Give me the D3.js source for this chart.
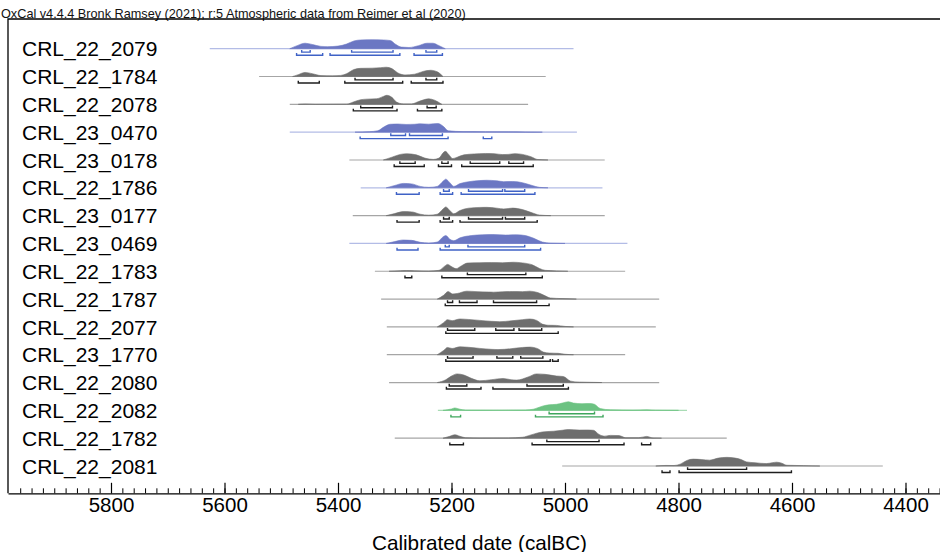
<!DOCTYPE html>
<html>
<head>
<meta charset="utf-8">
<script src="https://cdn.jsdelivr.net/npm/d3@7"></script>
<style>
  body { margin: 0; background: #fff; }
  svg { display: block; font-family: "Liberation Sans", Arial, sans-serif; }
</style>
</head>
<body>
<div id="plot"></div>
<script>
// sample names, top to bottom
const labels = ["CRL_22_2079", "CRL_22_1784", "CRL_22_2078", "CRL_23_0470", "CRL_23_0178", "CRL_22_1786",
    "CRL_23_0177", "CRL_23_0469", "CRL_22_1783", "CRL_22_1787", "CRL_22_2077", "CRL_23_1770",
    "CRL_22_2080", "CRL_22_2082", "CRL_22_1782", "CRL_22_2081"];

const groups = ["blue", "grey", "grey", "blue", "grey", "blue", "grey", "blue",
    "grey", "grey", "grey", "grey", "grey", "green", "grey", "grey"];

// extent of the thin line under each distribution (calBC)
const ranges = [[5626, 4985], [5539, 5034], [5485, 5065], [5485, 4979], [5380, 4930], [5360, 4934],
    [5374, 4930], [5380, 4890], [5335, 4894], [5324, 4834], [5314, 4840], [5314, 4894],
    [5310, 4834], [5224, 4785], [5300, 4715], [5005, 4440]];

// calibrated probability, [year calBC, relative density]
const densities = [
    [[5485, 0], [5472, 0.33], [5458, 0.59], [5445, 0.45], [5430, 0.25], [5418, 0.22], [5400, 0.28], [5385, 0.5], [5372, 0.83], [5360, 0.94], [5340, 0.97], [5320, 0.94], [5308, 0.88], [5298, 0.45], [5288, 0.17], [5275, 0.13], [5258, 0.33], [5243, 0.59], [5233, 0.59], [5222, 0.33], [5211, 0]],
    [[5480, 0], [5470, 0.2], [5458, 0.44], [5445, 0.3], [5430, 0.1], [5410, 0.08], [5395, 0.12], [5385, 0.3], [5372, 0.75], [5360, 0.88], [5340, 0.9], [5325, 0.95], [5315, 1.0], [5305, 0.85], [5295, 0.4], [5282, 0.17], [5265, 0.25], [5250, 0.55], [5237, 0.67], [5225, 0.5], [5215, 0]],
    [[5470, 0], [5458, 0.04], [5440, 0], [5385, 0.02], [5373, 0.25], [5360, 0.5], [5349, 0.56], [5332, 0.6], [5320, 0.85], [5314, 0.97], [5305, 0.75], [5297, 0.25], [5285, 0.05], [5270, 0.05], [5258, 0.3], [5240, 0.59], [5230, 0.45], [5217, 0]],
    [[5370, 0], [5345, 0.05], [5330, 0.15], [5318, 0.6], [5308, 0.85], [5295, 0.88], [5280, 0.83], [5265, 0.85], [5256, 0.9], [5240, 0.86], [5224, 0.93], [5214, 0.6], [5206, 0.15], [5180, 0.06], [5140, 0.05], [5100, 0.04], [5070, 0.02], [5040, 0]],
    [[5320, 0], [5305, 0.3], [5290, 0.6], [5279, 0.67], [5262, 0.55], [5247, 0.2], [5232, 0.06], [5222, 0.2], [5215, 0.75], [5211, 0.93], [5205, 0.6], [5198, 0.15], [5190, 0.3], [5178, 0.55], [5160, 0.65], [5140, 0.7], [5125, 0.68], [5110, 0.58], [5100, 0.6], [5088, 0.68], [5075, 0.6], [5060, 0.35], [5048, 0.05], [5030, 0]],
    [[5315, 0], [5300, 0.25], [5285, 0.47], [5270, 0.42], [5255, 0.15], [5240, 0.05], [5225, 0.15], [5215, 0.7], [5210, 0.93], [5203, 0.55], [5196, 0.15], [5185, 0.45], [5170, 0.65], [5150, 0.78], [5138, 0.81], [5120, 0.75], [5108, 0.66], [5092, 0.68], [5075, 0.55], [5058, 0.25], [5045, 0.05], [5030, 0]],
    [[5315, 0], [5300, 0.22], [5285, 0.43], [5270, 0.4], [5255, 0.15], [5240, 0.05], [5225, 0.15], [5215, 0.7], [5210, 0.93], [5203, 0.55], [5196, 0.2], [5185, 0.55], [5170, 0.8], [5150, 0.88], [5138, 0.89], [5120, 0.8], [5108, 0.72], [5092, 0.81], [5075, 0.65], [5058, 0.3], [5045, 0.06], [5025, 0]],
    [[5315, 0], [5300, 0.2], [5285, 0.37], [5270, 0.33], [5255, 0.12], [5240, 0.04], [5225, 0.15], [5215, 0.7], [5210, 0.85], [5203, 0.45], [5196, 0.3], [5185, 0.6], [5165, 0.85], [5145, 0.93], [5127, 0.96], [5105, 0.9], [5085, 0.93], [5070, 0.85], [5055, 0.55], [5040, 0.15], [5025, 0.03], [5000, 0]],
    [[5310, 0], [5290, 0.06], [5279, 0.08], [5265, 0.05], [5240, 0.02], [5222, 0.1], [5212, 0.55], [5207, 0.74], [5200, 0.5], [5192, 0.28], [5182, 0.6], [5172, 0.88], [5150, 0.92], [5130, 0.93], [5110, 0.91], [5091, 0.97], [5075, 0.9], [5058, 0.7], [5045, 0.3], [5035, 0.1], [5015, 0.04], [4995, 0]],
    [[5225, 0], [5214, 0.4], [5206, 0.81], [5198, 0.55], [5190, 0.6], [5173, 0.85], [5155, 0.8], [5135, 0.76], [5126, 0.74], [5110, 0.78], [5092, 0.81], [5075, 0.8], [5062, 0.85], [5048, 0.7], [5035, 0.35], [5026, 0.12], [5005, 0.05], [4980, 0]],
    [[5225, 0], [5214, 0.45], [5207, 0.78], [5199, 0.67], [5185, 0.85], [5170, 0.8], [5150, 0.7], [5130, 0.6], [5115, 0.56], [5095, 0.65], [5075, 0.78], [5062, 0.85], [5050, 0.7], [5040, 0.3], [5030, 0.18], [5015, 0.16], [5000, 0.05], [4985, 0]],
    [[5225, 0], [5214, 0.45], [5207, 0.78], [5199, 0.67], [5185, 0.85], [5170, 0.8], [5150, 0.68], [5130, 0.58], [5118, 0.55], [5095, 0.65], [5075, 0.78], [5062, 0.82], [5048, 0.65], [5038, 0.28], [5028, 0.18], [5012, 0.15], [5000, 0.05], [4985, 0]],
    [[5225, 0], [5210, 0.3], [5200, 0.7], [5190, 0.93], [5178, 0.8], [5165, 0.45], [5150, 0.19], [5130, 0.3], [5109, 0.44], [5095, 0.3], [5085, 0.26], [5065, 0.6], [5050, 0.93], [5035, 0.88], [5015, 0.7], [5003, 0.65], [4990, 0.15], [4975, 0.05], [4950, 0.02], [4935, 0]],
    [[5215, 0], [5200, 0.15], [5194, 0.26], [5185, 0.12], [5175, 0.03], [5120, 0.02], [5070, 0.04], [5056, 0.12], [5040, 0.45], [5028, 0.6], [5015, 0.65], [5005, 0.78], [4994, 0.93], [4985, 0.78], [4970, 0.72], [4956, 0.74], [4948, 0.65], [4938, 0.2], [4920, 0.06], [4880, 0.03], [4856, 0.06], [4840, 0.02], [4800, 0]],
    [[5215, 0], [5203, 0.2], [5194, 0.37], [5185, 0.2], [5175, 0.05], [5150, 0.02], [5100, 0.03], [5075, 0.1], [5060, 0.35], [5040, 0.67], [5020, 0.75], [5005, 0.85], [4994, 0.93], [4975, 0.87], [4960, 0.88], [4950, 0.85], [4940, 0.4], [4930, 0.22], [4920, 0.3], [4905, 0.28], [4893, 0.05], [4870, 0.05], [4856, 0.19], [4845, 0.02], [4830, 0]],
    [[4840, 0], [4822, 0.06], [4808, 0.05], [4797, 0.2], [4785, 0.6], [4774, 0.74], [4760, 0.7], [4745, 0.63], [4730, 0.85], [4715, 0.93], [4700, 0.85], [4690, 0.7], [4680, 0.44], [4665, 0.35], [4645, 0.26], [4635, 0.35], [4627, 0.41], [4618, 0.3], [4609, 0.08], [4580, 0.04], [4551, 0]]
];

// 68.3% ranges
const ranges68 = [
    [[5464, 5449], [5376, 5303], [5245, 5226]],
    [[5370, 5303], [5245, 5226]],
    [[5360, 5304], [5243, 5227]],
    [[5307, 5281], [5274, 5216]],
    [[5291, 5264], [5217, 5206], [5167, 5115], [5099, 5073]],
    [[5214, 5204], [5170, 5110], [5106, 5071]],
    [[5214, 5204], [5170, 5110], [5105, 5071]],
    [[5211, 5204], [5171, 5071]],
    [[5172, 5069]],
    [[5207, 5198], [5186, 5155], [5126, 5050]],
    [[5207, 5159], [5122, 5090], [5081, 5041]],
    [[5207, 5162], [5120, 5092], [5078, 5039]],
    [[5204, 5173], [5067, 5003]],
    [[5028, 4948]],
    [[5032, 4940]],
    [[4784, 4680]]
];

// 95.4% ranges
const ranges95 = [
    [[5473, 5427], [5414, 5291], [5266, 5216]],
    [[5470, 5433], [5388, 5286], [5271, 5215]],
    [[5373, 5296], [5260, 5217]],
    [[5361, 5206], [5144, 5129]],
    [[5301, 5248], [5223, 5200], [5182, 5056]],
    [[5297, 5257], [5220, 5198], [5183, 5053]],
    [[5296, 5257], [5220, 5198], [5185, 5049]],
    [[5296, 5259], [5220, 5043]],
    [[5282, 5270], [5217, 5040]],
    [[5211, 5028]],
    [[5210, 5012]],
    [[5210, 5026], [5022, 5012]],
    [[5209, 5148], [5127, 4994]],
    [[5201, 5184], [5052, 4933]],
    [[5203, 5179], [5058, 4896], [4865, 4849]],
    [[4829, 4815], [4799, 4601]]
];

const majorTicks = [5800, 5600, 5400, 5200, 5000, 4800, 4600, 4400];
const minorTicks = d3.range(5960, 4330, -20);

const colors = {
    blue: { fill: "#6b77c3", line: "#b3bce6", range: "#3f62c6" },
    grey: { fill: "#6e6e6e", line: "#a6a6a6", range: "#1e1e1e" },
    green: { fill: "#6cc282", line: "#a9dcb5", range: "#3fa65d" }
};

const width = 940, height = 552;
const frame = { left: 8, top: 19, bottom: 493.3 };

const svg = d3.select("#plot")
    .append("svg")
    .attr("width", width)
    .attr("height", height);

const x = d3.scaleLinear()
    .domain([5800, 4400])
    .range([111, 905.5]);

const y = d3.scalePoint()
    .domain(labels)
    .range([48.7, 466]);

const h = d3.scaleLinear().domain([0, 1]).range([0, 9.3]);

svg.append("text")
    .attr("x", 1)
    .attr("y", 17.5)
    .attr("font-size", 12.7)
    .attr("fill", "#111")
    .text("OxCal v4.4.4 Bronk Ramsey (2021); r:5 Atmospheric data from Reimer et al (2020)");

// frame
svg.append("path")
    .attr("d", `M${width + 2},${frame.top}H${frame.left}V${frame.bottom}`)
    .attr("fill", "none")
    .attr("stroke", "#000")
    .attr("stroke-width", 1.3);

const rows = svg.append("g")
    .selectAll("g")
    .data(labels)
    .join("g");

rows.append("text")
    .attr("x", 22)
    .attr("y", d => y(d) + 7.6)
    .attr("font-size", 21)
    .attr("fill", "#000")
    .text(d => d);

rows.append("line")
    .attr("x1", (d, i) => x(ranges[i][0]))
    .attr("x2", (d, i) => x(ranges[i][1]))
    .attr("y1", d => y(d))
    .attr("y2", d => y(d))
    .attr("stroke", (d, i) => colors[groups[i]].line)
    .attr("stroke-width", 1.2);

rows.append("path")
    .attr("d", (d, i) => d3.area()
        .x(p => x(p[0]))
        .y0(y(d))
        .y1(p => y(d) - h(p[1]))
        .curve(d3.curveMonotoneX)(densities[i]))
    .attr("fill", (d, i) => colors[groups[i]].fill)
    .attr("stroke", (d, i) => colors[groups[i]].fill)
    .attr("stroke-width", 0.6);

function bracket(a, b, yy) {
    return `M${x(a)},${yy - 2.2}V${yy}H${x(b)}V${yy - 2.2}`;
}

rows.each(function (d, i) {
    const g = d3.select(this);
    const c = colors[groups[i]].range;
    g.selectAll("path.r68")
        .data(ranges68[i])
        .join("path")
        .attr("class", "r68")
        .attr("d", r => bracket(r[0], r[1], y(d) + 3.4))
        .attr("fill", "none")
        .attr("stroke", c)
        .attr("stroke-width", 1.4);
    g.selectAll("path.r95")
        .data(ranges95[i])
        .join("path")
        .attr("class", "r95")
        .attr("d", r => bracket(r[0], r[1], y(d) + 6.5))
        .attr("fill", "none")
        .attr("stroke", c)
        .attr("stroke-width", 1.4);
});

// axis: ticks point up into the plot
const xAxis = x.copy().domain([x.invert(frame.left), x.invert(width + 2)]).range([frame.left, width + 2]);

const axisG = svg.append("g")
    .attr("transform", `translate(0,${frame.bottom})`);

axisG.append("g")
    .call(d3.axisBottom(xAxis).tickValues(minorTicks).tickSizeInner(-5).tickSizeOuter(0).tickFormat(""))
    .call(g => g.select(".domain").remove())
    .call(g => g.selectAll("line").attr("stroke-width", 1));

axisG.append("g")
    .call(d3.axisBottom(xAxis).tickValues(majorTicks).tickSizeInner(-10.5).tickSizeOuter(0).tickPadding(4).tickFormat(d3.format("d")))
    .call(g => g.select(".domain").attr("stroke-width", 1.3))
    .call(g => g.selectAll("line").attr("stroke-width", 1.2))
    .call(g => g.selectAll("text")
        .attr("font-size", 20.5)
        .attr("font-family", "'Liberation Sans', Arial, sans-serif")
        .attr("fill", "#000"));

svg.append("text")
    .attr("x", 479.5)
    .attr("y", 549.5)
    .attr("text-anchor", "middle")
    .attr("font-size", 20.7)
    .attr("fill", "#000")
    .text("Calibrated date (calBC)");
</script>
</body>
</html>
